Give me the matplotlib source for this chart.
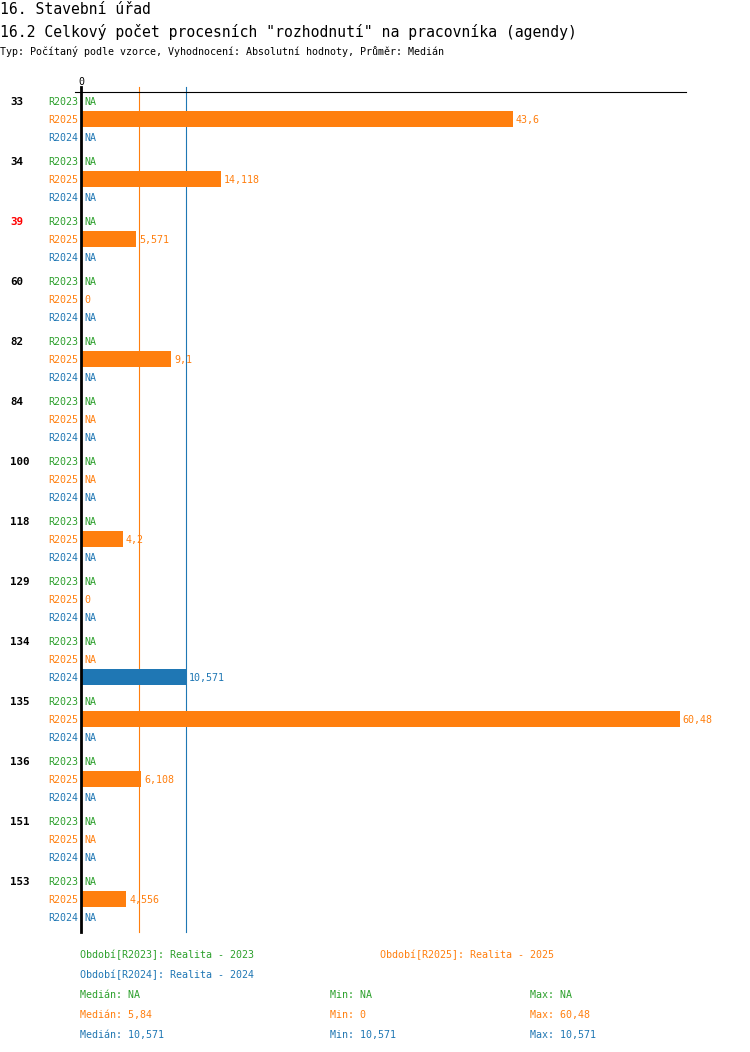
'''Stavebni urad - 16.2 rozhodnuti na pracovnika'''
import numpy as np
import matplotlib
matplotlib.use("Agg")
import matplotlib.pyplot as plt
from matplotlib.transforms import blended_transform_factory

plt.rcParams['font.family'] = ['DejaVu Sans Mono']

# 1. Data.
groups = ['33', '34', '39', '60', '82', '84', '100', '118', '129', '134',
          '135', '136', '151', '153']
highlight = ['39']
seriesNames = ['R2023', 'R2025', 'R2024']
seriesColors = ['#2ca02c', '#ff7f0e', '#1f77b4']
seriesLegend = ['Období[R2023]: Realita - 2023',
                'Období[R2025]: Realita - 2025',
                'Období[R2024]: Realita - 2024']

r2023 = [None] * 14
r2025 = [43.6, 14.118, 5.571, 0, 9.1, None, None, 4.2, 0, None,
         60.48, 6.108, None, 4.556]
r2024 = [None, None, None, None, None, None, None, None, None, 10.571,
         None, None, None, None]
seriesValues = [r2023, r2025, r2024]

title1 = '16. Stavební úřad'
title2 = '16.2 Celkový počet procesních "rozhodnutí" na pracovníka (agendy)'
subtitle = 'Typ: Počítaný podle vzorce, Vyhodnocení: Absolutní hodnoty, Průměr: Medián'


def fmt(v):
    return '{:g}'.format(v).replace('.', ',')


# 2. Figure and axes (pixel layout 750x1052).
W, H = 750, 1052
fig = plt.figure(figsize=(7.5, 10.52), dpi=100)
axLeft, axRight, axTop, axBottom = 74.6, 686, 92, 932
ax = fig.add_axes([axLeft / W, 1 - axBottom / H,
                   (axRight - axLeft) / W, (axBottom - axTop) / H])

pxPerUnit = 9.9
zeroPx = 81
ax.set_xlim(-(zeroPx - axLeft) / pxPerUnit, (axRight - zeroPx) / pxPerUnit)

groupStep = 60
rowStep = 18
ax.set_ylim(13 * groupStep + 2 * rowStep + 15, -9)

for s in ['left', 'right', 'bottom']:
    ax.spines[s].set_visible(False)
ax.spines['top'].set_linewidth(0.8)
ax.set_xticks([])
ax.set_yticks([])

small = 7.2
toFigX = blended_transform_factory(fig.transFigure, ax.transData)

# 3. Bars and labels.
for g, grp in enumerate(groups):
    y0 = g * groupStep
    ax.text(10 / W, y0, grp, transform=toFigX, fontsize=small + 0.6,
            fontweight='bold', va='center_baseline', ha='left',
            color='red' if grp in highlight else 'black')
    for r, (name, col, vals) in enumerate(zip(seriesNames, seriesColors,
                                              seriesValues)):
        y = y0 + r * rowStep
        ax.text(78 / W, y, name, transform=toFigX, fontsize=small,
                va='center_baseline', ha='right', color=col)
        v = vals[g]
        if v is None:
            ax.annotate('NA', (0, y), xytext=(2.2, 0),
                        textcoords='offset points', fontsize=small,
                        va='center_baseline', ha='left', color=col)
        else:
            ax.barh(y, v, height=16, left=0, color=col, zorder=3)
            ax.annotate(fmt(v), (v, y), xytext=(2.2, 0),
                        textcoords='offset points', fontsize=small,
                        va='center_baseline', ha='left', color=col)

# Median lines (behind the bars) and zero line.
ext = 1 + 5 / (axBottom - axTop)
for col, vals in zip(seriesColors, seriesValues):
    nums = [v for v in vals if v is not None]
    if nums:
        ax.axvline(np.median(nums), ymin=0, ymax=ext, color=col, lw=0.8,
                   clip_on=False, zorder=1)
ax.axvline(0, ymin=0, ymax=ext, color='black', lw=2, clip_on=False, zorder=5)
ax.text(0, 1 + 11 / (axBottom - axTop), '0',
        transform=blended_transform_factory(ax.transData, ax.transAxes),
        fontsize=small, ha='center', va='center_baseline')

# 4. Titles.
fig.text(0, 1 - 8 / H, title1, fontsize=10.6, va='center_baseline')
fig.text(0, 1 - 30 / H, title2, fontsize=10.6, va='center_baseline')
fig.text(0, 1 - 51 / H, subtitle, fontsize=small, va='center_baseline')

# 5. Footer: legend and statistics.
fig.text(80 / W, 1 - 954 / H, seriesLegend[0], color=seriesColors[0],
         fontsize=small, va='center_baseline')
fig.text(380 / W, 1 - 954 / H, seriesLegend[1], color=seriesColors[1],
         fontsize=small, va='center_baseline')
fig.text(80 / W, 1 - 974 / H, seriesLegend[2], color=seriesColors[2],
         fontsize=small, va='center_baseline')

statY = 994
for col, vals in zip(seriesColors, seriesValues):
    nums = [v for v in vals if v is not None]
    if nums:
        m = float(np.median(nums))
        med = fmt(m) if m in nums else fmt(round(m, 2))
        mn = fmt(min(nums))
        mx = fmt(max(nums))
    else:
        med = mn = mx = 'NA'
    fig.text(80 / W, 1 - statY / H, 'Medián: ' + med, color=col,
             fontsize=small, va='center_baseline')
    fig.text(330 / W, 1 - statY / H, 'Min: ' + mn, color=col,
             fontsize=small, va='center_baseline')
    fig.text(530 / W, 1 - statY / H, 'Max: ' + mx, color=col,
             fontsize=small, va='center_baseline')
    statY += 20

fig.savefig('out.png', dpi=100)
